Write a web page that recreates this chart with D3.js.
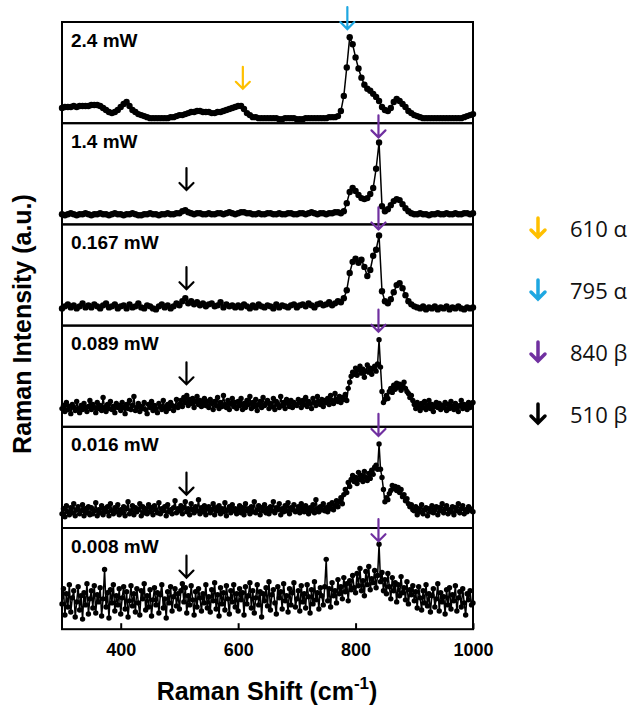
<!DOCTYPE html>
<html>
<head>
<meta charset="utf-8">
<script src="https://cdn.jsdelivr.net/npm/d3@7"></script>
<style>
  body { margin: 0; background: #fff; }
  .tick text { font-family: 'Liberation Sans', Arial, sans-serif; font-weight: bold; font-size: 18px; }
  .panel-label { font-family: 'Liberation Sans', Arial, sans-serif; font-weight: bold; font-size: 19px; }
  .title { font-family: 'Liberation Sans', Arial, sans-serif; font-weight: bold; font-size: 25px; }
  .legend text { font-family: 'Open Sans', sans-serif; font-size: 22px; }
</style>
</head>
<body>
<div id="chart"></div>
<script>
var panelLabels = ['2.4 mW', '1.4 mW', '0.167 mW', '0.089 mW', '0.016 mW', '0.008 mW'];

// intensities, 0 = panel floor, 100 = panel top
// the three top spectra every 5 cm-1, the three noisy ones every 2.5 cm-1, all 300..1000
var spec2_4 = [
  15,16,16,16,17,16,17,17,17,17, 18,18,18,17,15,13,11,10,11,13,
  16,19,21,17,13,11,9,8,7,6, 5,5,5,5,5,5,5,6,6,7,
  8,8,9,10,11,11,12,12,11,11, 11,10,10,11,11,12,13,14,15,16,
  17,17,14,10,8,6,6,5,5,5, 5,5,5,5,4,4,5,5,5,5,
  4,4,4,5,5,5,5,5,5,5, 5,6,6,6,7,12,27,55,85,78,
  65,54,45,38,34,32,29,26,22,16, 13,12,15,21,24,22,19,16,12,10,
  8,7,6,5,5,5,5,5,5,5, 5,5,5,5,5,5,5,6,7,8, 9];
var spec1_4 = [
  10,9,10,11,10,9,10,10,11,10, 9,10,10,11,10,10,9,10,11,10,
  10,9,10,10,11,10,9,9,10,10, 11,10,10,9,10,10,11,10,10,11,
  11,13,14,12,11,10,11,11,10,10, 11,10,10,11,11,10,11,12,11,10,
  11,12,12,11,11,10,10,11,10,10, 11,11,10,10,11,10,10,11,11,10,
  10,11,11,10,11,12,11,10,11,11, 10,11,11,12,12,11,13,21,32,36,
  33,29,26,25,26,30,36,55,81,18, 13,15,19,23,25,24,20,16,13,11,
  10,10,11,10,10,9,10,10,11,10, 10,11,10,10,11,10,10,11,11,10, 11];
var spec0_167 = [
  17,19,21,18,20,17,19,22,18,20, 18,21,19,17,20,22,18,19,21,17,
  19,20,17,21,18,19,22,18,17,20, 19,17,16,19,21,18,20,17,19,22,
  20,24,27,22,24,21,23,20,22,19, 21,22,19,20,23,18,21,19,20,18,
  20,18,21,19,17,20,18,21,19,18, 20,19,17,21,18,20,19,18,20,21,
  18,20,21,19,22,20,18,21,22,20, 21,23,20,22,24,23,27,35,52,63,
  66,62,65,58,49,55,69,75,89,34, 24,22,26,33,40,42,37,30,24,21,
  19,18,17,19,16,18,17,19,16,18, 17,19,16,18,17,19,17,16,18,17, 18];
var spec0_089 = [
  18,21,15,24,17,20,13,22,19,16,25,18,14,21,17,23,19,15,20,26,
  17,22,19,14,24,18,21,16,29,19,15,22,18,25,17,20,14,23,19,21,
  16,24,19,13,22,18,26,17,21,30,16,19,23,15,20,18,24,17,13,22,
  19,25,16,21,18,14,23,20,17,26,19,15,22,18,24,21,16,20,27,19,
  22,26,20,29,24,31,21,27,23,28,19,25,30,22,26,20,24,28,21,25,
  19,27,23,17,25,21,29,18,24,20,31,22,19,26,17,23,28,20,24,18,
  25,21,28,17,23,19,26,22,30,18,24,20,27,16,22,25,19,29,21,23,
  26,18,23,20,28,17,25,22,19,30,21,24,18,27,23,20,26,19,24,22,
  21,27,24,19,26,22,29,20,25,23,18,28,24,21,30,25,22,27,20,26,
  24,28,22,31,26,23,33,27,25,30,24,29,27,32,26,38,44,50,54,52,
  58,51,56,60,53,57,49,55,61,54,58,52,57,60,55,62,86,59,35,24,
  27,31,28,35,38,34,41,37,43,39,42,36,40,44,38,35,33,29,31,26,
  22,18,24,20,16,23,19,25,17,21,26,18,22,15,20,24,19,23,17,21,
  19,24,16,22,18,25,20,17,23,19,15,21,26,18,22,20,17,24,19,22, 24];
var spec0_016 = [
  14,19,11,22,16,13,20,15,24,12,18,21,14,17,23,12,19,15,21,13,
  20,14,17,25,12,18,15,22,13,19,16,21,12,24,17,14,20,16,23,13,
  18,15,21,12,19,26,14,17,22,13,20,16,18,24,12,21,15,19,14,23,
  16,20,13,22,18,15,25,14,19,17,21,12,23,16,18,14,20,27,15,19,
  17,22,14,20,26,16,19,13,24,18,15,21,17,28,14,20,16,22,13,19,
  21,15,18,24,13,20,17,22,14,19,16,25,12,18,21,15,23,17,19,14,
  18,22,15,20,13,24,17,19,14,21,16,26,15,18,22,13,20,17,23,15,
  19,14,21,17,26,15,20,18,24,13,19,16,22,17,25,14,20,18,23,16,
  17,21,15,24,19,16,22,18,14,20,17,23,15,28,19,16,21,18,24,17,
  20,16,23,19,25,18,22,27,21,26,30,24,33,38,35,45,41,48,52,46,
  50,44,55,48,52,46,56,50,47,54,49,57,53,60,62,58,83,58,50,38,
  26,30,28,34,37,42,39,41,37,40,35,38,31,33,27,29,24,21,23,18,
  17,21,13,19,16,23,14,18,20,12,19,16,22,15,18,21,13,20,17,24,
  15,19,22,14,18,16,21,13,20,17,24,15,19,22,14,18,16,21,19,17, 16];
var spec0_008 = [
  25,40,14,35,22,44,17,31,38,12,27,42,19,33,10,36,24,45,15,30,
  38,21,43,16,34,27,41,13,30,59,22,36,11,39,26,44,18,33,24,40,
  15,31,42,20,37,12,28,43,23,35,17,40,26,14,38,30,45,19,33,22,
  39,13,29,41,24,36,16,34,44,21,30,11,37,26,42,18,32,40,23,35,
  20,38,45,27,41,16,33,24,43,29,14,37,22,40,31,18,35,26,44,21,
  32,17,39,28,46,20,34,13,41,25,36,19,43,30,15,38,27,44,22,35,
  18,40,29,36,14,42,25,33,46,21,38,16,31,44,24,37,12,35,28,41,
  23,47,19,34,39,26,15,42,31,37,20,45,28,33,17,40,24,36,46,22,
  30,38,18,43,27,35,21,44,32,16,39,25,47,29,36,20,41,33,24,42,
  69,28,40,22,46,33,38,26,49,35,42,30,51,37,45,28,48,39,53,41,
  36,55,43,60,38,48,33,57,44,62,39,50,46,58,41,53,84,47,56,38,
  49,35,55,42,30,51,38,46,27,44,33,52,36,41,29,47,25,39,34,43,
  28,37,21,42,31,19,38,26,44,23,35,17,33,40,22,30,45,18,36,27,
  32,15,39,24,41,20,34,28,43,18,31,37,22,40,26,14,35,29,38,24, 26];

var spectra = [spec2_4, spec1_4, spec0_167, spec0_089, spec0_016, spec0_008];

// band markers: which band, in which panel, at which shift, tip level
var bands = ['610 α', '795 α', '840 β', '510 β'];
var markBand  = ['610 α', '795 α', '840 β', '840 β', '840 β', '840 β', '840 β', '510 β', '510 β', '510 β', '510 β', '510 β'];
var markPanel = [0, 0, 1, 2, 3, 4, 5, 1, 2, 3, 4, 5];
var markShift = [608, 786, 839, 839, 839, 839, 839, 512, 512, 512, 512, 512];
var markLevel = [34, 93, 86, 95, 94, 91, 87, 34, 36, 42, 33, 51];

var xTicks = [400, 600, 800, 1000];

function ramanStack() {
  var svg = d3.select('#chart')
      .append('svg')
      .attr('width', 632)
      .attr('height', 707),
    margin = { top: 22, left: 62, right: 159 },
    width = 632 - margin.left - margin.right,
    panelH = 101.2,
    bandColor = d3.scaleOrdinal()
      .domain(bands)
      .range(['#ffc000', '#1ea7e1', '#7030a0', '#000000']);

  var x = d3.scaleLinear().domain([300, 1000]).range([margin.left, margin.left + width]);

  function panelTop(i) { return margin.top + i * panelH; }
  function yFor(i) {
    return d3.scaleLinear().domain([0, 100]).range([panelTop(i) + panelH, panelTop(i)]);
  }

  spectra.forEach(function (values, i) {
    var y = yFor(i),
      step = 700 / (values.length - 1),
      fine = values.length > 200;
    var g = svg.append('g').attr('class', 'panel');
    var sx = function (d, j) { return x(300 + j * step); };

    g.append('path')
      .datum(values)
      .attr('fill', 'none')
      .attr('stroke', '#000')
      .attr('stroke-width', 1.5)
      .attr('d', d3.line().x(sx).y(function (d) { return y(d); }));

    g.selectAll('circle')
      .data(values)
      .enter()
      .append('circle')
      .attr('cx', sx)
      .attr('cy', function (d) { return y(d); })
      .attr('r', fine ? 2.7 : 3.2)
      .attr('fill', '#000');

    g.append('rect')
      .attr('x', margin.left)
      .attr('y', panelTop(i))
      .attr('width', width)
      .attr('height', panelH)
      .attr('fill', 'none')
      .attr('stroke', '#000')
      .attr('stroke-width', 2);

    g.append('text')
      .attr('class', 'panel-label')
      .attr('x', margin.left + 9)
      .attr('y', panelTop(i) + 24.5)
      .text(panelLabels[i]);
  });

  // x axis with inward ticks on the bottom panel
  var bottom = panelTop(spectra.length);
  var xAxis = svg.append('g')
    .attr('transform', 'translate(0,' + bottom + ')')
    .call(d3.axisBottom(x).tickValues(xTicks).tickFormat(d3.format('d')).tickSize(-6).tickPadding(14));
  xAxis.select('.domain').remove();
  xAxis.selectAll('.tick line').attr('stroke', '#000').attr('stroke-width', 2);
  xAxis.selectAll('.tick text').attr('fill', '#000');

  // arrows pointing to bands
  function arrow(g, cx, tipY, len, head, sw, color) {
    g.append('path')
      .attr('d', 'M' + cx + ',' + (tipY - len) + 'V' + tipY +
        'M' + (cx - head) + ',' + (tipY - head) + 'L' + cx + ',' + tipY + 'L' + (cx + head) + ',' + (tipY - head))
      .attr('fill', 'none')
      .attr('stroke', color)
      .attr('stroke-width', sw)
      .attr('stroke-linecap', 'round');
  }

  var marks = svg.append('g').attr('class', 'marks');
  markBand.forEach(function (b, k) {
    var y = yFor(markPanel[k]);
    arrow(marks, x(markShift[k]), y(markLevel[k]), 22, 7, 2.2, bandColor(b));
  });

  // legend
  var legend = svg.append('g').attr('class', 'legend');
  bands.forEach(function (b, k) {
    var cy = 228 + k * 62;
    arrow(legend, 538, cy + 9, 19, 7, 3.5, bandColor(b));
    legend.append('text')
      .attr('x', 570)
      .attr('y', cy + 9)
      .attr('fill', '#111')
      .text(b);
  });

  // titles
  var xt = svg.append('text')
    .attr('class', 'title')
    .attr('x', 267)
    .attr('y', 700)
    .attr('text-anchor', 'middle');
  xt.append('tspan').text('Raman Shift (cm');
  xt.append('tspan').attr('dy', -11).style('font-size', '17px').text('-1');
  xt.append('tspan').attr('dy', 11).text(')');

  svg.append('text')
    .attr('class', 'title')
    .attr('transform', 'translate(31,324) rotate(-90)')
    .attr('text-anchor', 'middle')
    .text('Raman Intensity (a.u.)');
}

ramanStack();
</script>
</body>
</html>
